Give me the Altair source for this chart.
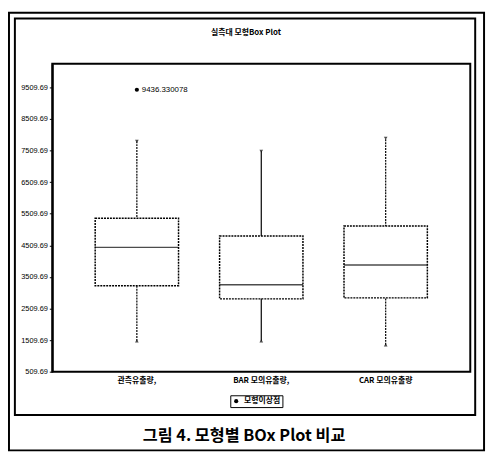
import altair as alt
import pandas as pd

groups = ["관측유출량,", "BAR 모의유출량,", "CAR 모의유출량"]
whisker_low = [1485, 1485, 1360]
q1 = [3230, 2815, 2846]
median = [4445, 3260, 3884]
q3 = [5370, 4808, 5120]
whisker_high = [7800, 7488, 7900]
outlier_group = ["관측유출량,"]
outlier_value = [9436.330078]
outlier_name = ["모형이상점"]
tick_values = [509.69, 1509.69, 2509.69, 3509.69, 4509.69, 5509.69, 6509.69, 7509.69, 8509.69, 9509.69]
y_domain = [509.69, 10257]

df = pd.DataFrame({"group": groups, "lo": whisker_low, "q1": q1, "med": median,
                   "q3": q3, "hi": whisker_high})
out = pd.DataFrame({"group": outlier_group, "value": outlier_value, "name": outlier_name})
out["label"] = out["value"].map(lambda v: f"{v:.6f}")
one = pd.DataFrame({"a": [0]})

FONT = "Liberation Sans"
KFONT = "Noto Sans CJK KR"

xs = alt.Scale(domain=groups, paddingInner=0.33, paddingOuter=0.345)
ys = alt.Scale(domain=y_domain, nice=False, zero=False)

xaxis = alt.Axis(title=None, ticks=False, domain=False, labelAngle=0,
                 labelFont=KFONT, labelFontSize=8, labelFontWeight="bold",
                 labelPadding=5, labelColor="black")
yaxis = alt.Axis(title=None, values=tick_values, format=".2f", grid=False,
                 tickSize=3, tickColor="black", domainColor="black", domainWidth=2,
                 labelOverlap=False, labelFont=FONT, labelFontSize=7.5,
                 labelColor="black", labelPadding=2)


def X(**kw):
    return alt.X("group:N", scale=xs, sort=groups, axis=xaxis, **kw)


def Y(field):
    return alt.Y(field, scale=ys, axis=yaxis)


base = alt.Chart(df)
first = alt.datum.group == groups[0]
second = alt.datum.group == groups[1]

whisk = base.mark_rule(color="black", strokeWidth=1.2, strokeDash=[2, 1]).encode(
    x=X(), y=Y("lo:Q"), y2="hi:Q").transform_filter(~second)
whisk2 = base.mark_rule(color="black", strokeWidth=1.2).encode(
    x=X(), y=Y("lo:Q"), y2="hi:Q").transform_filter(second)
box = base.mark_bar(fill="white", stroke="black", strokeWidth=1.5, strokeDash=[2, 1]).encode(
    x=X(), y=Y("q1:Q"), y2="q3:Q")
med1 = base.mark_tick(color="black", thickness=1.5, size=85).encode(
    x=X(), y=Y("med:Q")).transform_filter(first)
med2 = base.mark_tick(color="black", thickness=1.5, size=85, strokeDash=[2, 1]).encode(
    x=X(), y=Y("med:Q")).transform_filter(~first)
top_m = base.mark_point(shape="triangle-down", filled=True, color="black", size=14).encode(
    x=X(), y=Y("hi:Q"))
bot_m = base.mark_point(shape="triangle-up", filled=True, color="black", size=14).encode(
    x=X(), y=Y("lo:Q"))

opt = alt.Chart(out).mark_point(shape="circle", filled=True, size=18, opacity=1).encode(
    x=X(), y=Y("value:Q"),
    color=alt.Color("name:N", scale=alt.Scale(range=["black"]),
                    legend=alt.Legend(title=None, orient="none", legendX=181, legendY=337,
                                      strokeColor="black", padding=2, labelFont=KFONT,
                                      labelFontSize=8, labelFontWeight="bold",
                                      symbolSize=18, labelColor="black")))
opt_lab = alt.Chart(out).mark_text(align="left", dx=5, font=FONT, fontSize=8, color="black").encode(
    x=X(), y=Y("value:Q"), text="label:N")

t = alt.Chart(one)
inner = t.mark_rect(fill=None, stroke="black", strokeWidth=2).encode(
    x=alt.value(-38), x2=alt.value(430), y=alt.value(-46), y2=alt.value(357))
outer = t.mark_rect(fill=None, stroke="black", strokeWidth=2).encode(
    x=alt.value(-44), x2=alt.value(439), y=alt.value(-52), y2=alt.value(393))
title = t.mark_text(font=KFONT, fontSize=8, fontWeight="bold", color="black").encode(
    x=alt.value(197), y=alt.value(-31), text=alt.value("실측대 모형Box Plot"))
caption = t.mark_text(font=KFONT, fontSize=16.5, fontWeight="bold", color="black").encode(
    x=alt.value(195), y=alt.value(378), text=alt.value("그림 4. 모형별 BOx Plot 비교"))

chart = alt.layer(outer, inner, whisk, whisk2, box, med1, med2, top_m, bot_m, opt, opt_lab,
                  title, caption).properties(
    width=425, height=313,
    autosize=alt.AutoSizeParams(type="none"),
    padding={"left": 45, "top": 53, "right": 17, "bottom": 83},
).configure(background="white").configure_view(stroke="black", strokeWidth=2
).configure_axis(labelOverlap=False)

chart.save("out.html", embed_options={"renderer": "svg", "actions": False})
